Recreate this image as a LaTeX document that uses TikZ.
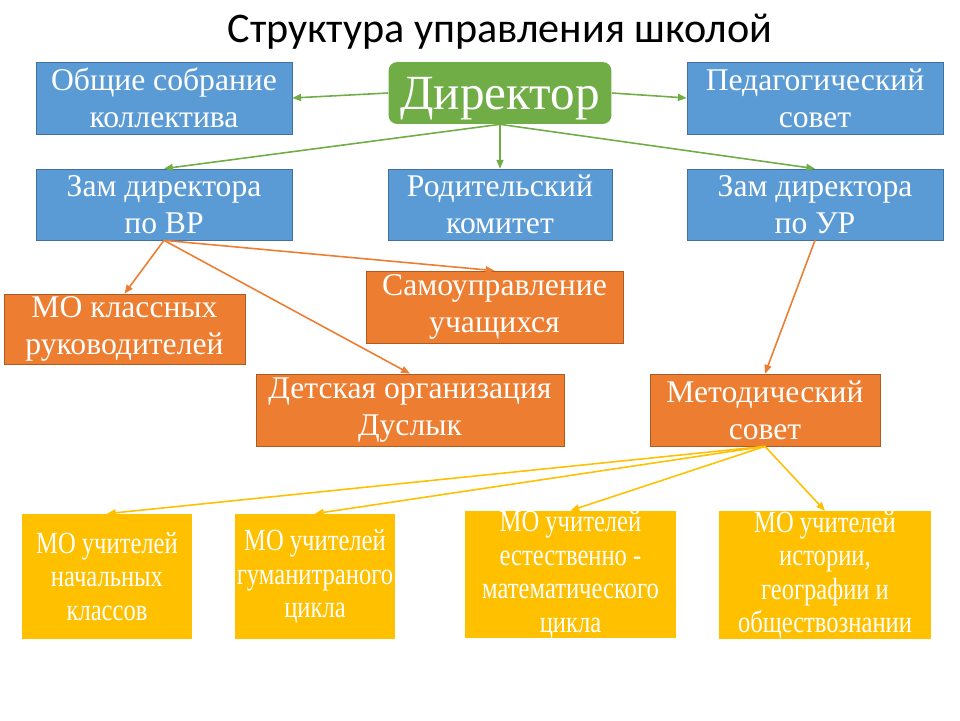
\documentclass[tikz,border=0pt]{standalone}
\usepackage{fontspec}
\setmainfont{Liberation Serif}
\newfontfamily\titlefont{Carlito}
\newfontfamily\narrowfont[FakeStretch=0.8]{Liberation Serif}
\usepackage{xcolor}
\usetikzlibrary{arrows.meta}
\definecolor{boxblue}{HTML}{5B9BD5}
\definecolor{lineblue}{HTML}{41719C}
\definecolor{boxgreen}{HTML}{70AD47}
\definecolor{boxorange}{HTML}{ED7D31}
\definecolor{lineorange}{HTML}{AE5A21}
\definecolor{boxyellow}{HTML}{FFC000}
\tikzset{
    base-box/.style = {rectangle, inner sep=0pt, align=center, text=white,
        font=\fontsize{18}{21}\selectfont},
    blue-box/.style = {base-box, fill=boxblue, draw=lineblue, thin},
    orange-box/.style = {base-box, fill=boxorange, draw=lineorange, thin},
    yellow-box/.style = {base-box, fill=boxyellow, font=\narrowfont\fontsize{17.5}{19}\selectfont},
    head-box/.style = {base-box, fill=boxgreen, rounded corners=5pt, text depth=0pt,
        font=\fontsize{28}{30}\selectfont},
    green-arrow/.style = {draw=boxgreen, line width=0.9pt, -{Triangle[length=5pt,width=4pt]}},
    orange-arrow/.style = {draw=boxorange, line width=0.9pt, -{Triangle[length=5pt,width=4pt]}},
    yellow-arrow/.style = {draw=boxyellow, line width=0.9pt, -{Triangle[length=5pt,width=4pt]}},
}
\begin{document}
\begin{tikzpicture}[x=0.02cm,y=-0.02cm]
\useasboundingbox (0,0) rectangle (960,720);
\node[font=\titlefont\fontsize{24}{26}\selectfont] (title) at (500,32) {Структура управления школой};

% top row
\node[head-box, minimum width=4.46cm, minimum height=1.24cm] (dir) at (500,93) {Директор};
\node[blue-box, minimum width=5.12cm, minimum height=1.44cm] (obsh) at (164,98) {Общие собрание\\коллектива};
\node[blue-box, minimum width=5.12cm, minimum height=1.44cm] (ped) at (815,98) {Педагогический\\совет};

% deputies
\node[blue-box, minimum width=5.12cm, minimum height=1.42cm] (zamvr) at (164,204.5) {Зам директора\\по ВР};
\node[blue-box, minimum width=4.48cm, minimum height=1.42cm] (rod) at (500,204.5) {Родительский\\комитет};
\node[blue-box, minimum width=5.12cm, minimum height=1.42cm] (zamur) at (815,204.5) {Зам директора\\по УР};

% orange row
\node[orange-box, minimum width=4.82cm, minimum height=1.40cm] (mokl) at (124.5,329) {МО классных\\руководителей};
\node[orange-box, minimum width=5.14cm, minimum height=1.44cm] (samo) at (494.5,307) {Самоуправление\\учащихся};
\node[orange-box, minimum width=6.16cm, minimum height=1.44cm] (det) at (410,410) {Детская организация\\Дуслык};
\node[orange-box, minimum width=4.60cm, minimum height=1.44cm] (met) at (765,410) {Методический\\совет};

% yellow row
\node[yellow-box, minimum width=3.40cm, minimum height=2.50cm] (mo1) at (107,576.5) {МО учителей\\начальных\\классов};
\node[yellow-box, minimum width=3.20cm, minimum height=2.50cm] (mo2) at (315,576.5) {МО учителей\\гуманитраного\\цикла};
\node[yellow-box, minimum width=4.22cm, minimum height=2.50cm] (mo3) at (570.5,574.5) {МО учителей\\естественно -\\математического\\цикла};
\node[yellow-box, minimum width=4.24cm, minimum height=2.48cm] (mo4) at (825,575) {МО учителей\\истории,\\географии и\\обществознании};

% connectors
\draw[green-arrow] (dir.west) -- (obsh.east);
\draw[green-arrow] (dir.east) -- (ped.west);
\draw[green-arrow] (dir.south) -- (zamvr.north);
\draw[green-arrow] (dir.south) -- (rod.north);
\draw[green-arrow] (dir.south) -- (zamur.north);
\draw[orange-arrow] (zamvr.south) -- (mokl.north);
\draw[orange-arrow] (zamvr.south) -- (samo.north);
\draw[orange-arrow] (zamvr.south) -- (det.north);
\draw[orange-arrow] (zamur.south) -- (met.north);
\foreach \n in {mo1,mo2,mo3,mo4}
    \draw[yellow-arrow] (met.south) -- (\n.north);
\end{tikzpicture}
\end{document}
